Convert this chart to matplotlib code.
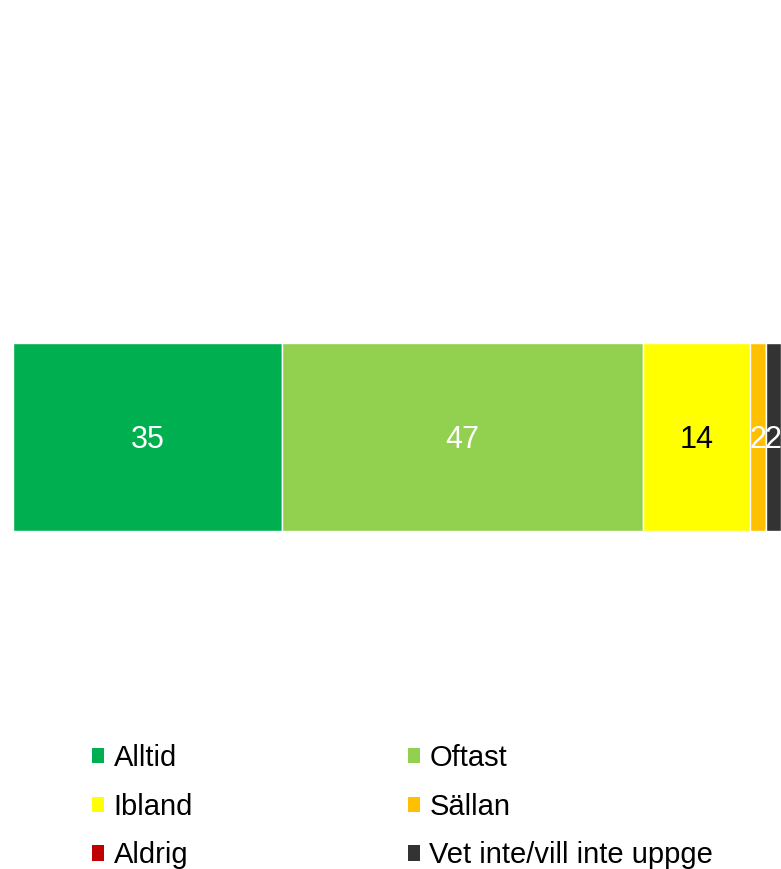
import matplotlib
matplotlib.use("Agg")
import matplotlib.pyplot as plt
from matplotlib.patches import Patch

plt.rcParams['font.family'] = ['Liberation Sans', 'DejaVu Sans']

categories = ["Alltid", "Oftast", "Ibland", "Sällan", "Aldrig", "Vet inte/vill inte uppge"]
values = [35, 47, 14, 2, 0, 2]
colors = ["#00B050", "#92D050", "#FFFF00", "#FFC000", "#C00000", "#333333"]
label_colors = ["white", "white", "black", "white", "white", "white"]

fig = plt.figure(figsize=(7.81, 8.69), dpi=100)
ax = fig.add_axes([13 / 781, (869 - 531) / 869, 1 - 13 / 781, 188 / 869])

left = 0
for cat, val, col, tcol in zip(categories, values, colors, label_colors):
    ax.barh(0, val, left=left, height=1, color=col, edgecolor="white", linewidth=1)
    if val > 0:
        ax.text(left + val / 2, 0, str(val), ha="center", va="center_baseline",
                color=tcol, fontsize=22)
    left += val

ax.set_xlim(0, 100)
ax.set_ylim(-0.5, 0.5)
ax.axis("off")

# legend is filled row by row in the reference (2 columns)
order = [0, 2, 4, 1, 3, 5]
handles = [Patch(facecolor=colors[i], edgecolor="none") for i in order]
labels = [categories[i] for i in order]
fig.legend(handles, labels, ncol=2, loc="upper left",
           bbox_to_anchor=(92 / 781, 1 - 744 / 869), frameon=False, borderpad=0,
           borderaxespad=0, fontsize=21, handlelength=0.42, handleheight=0.42,
           handletextpad=0.32, labelspacing=0.71, columnspacing=7.36)

fig.savefig("out.png", dpi=100)
